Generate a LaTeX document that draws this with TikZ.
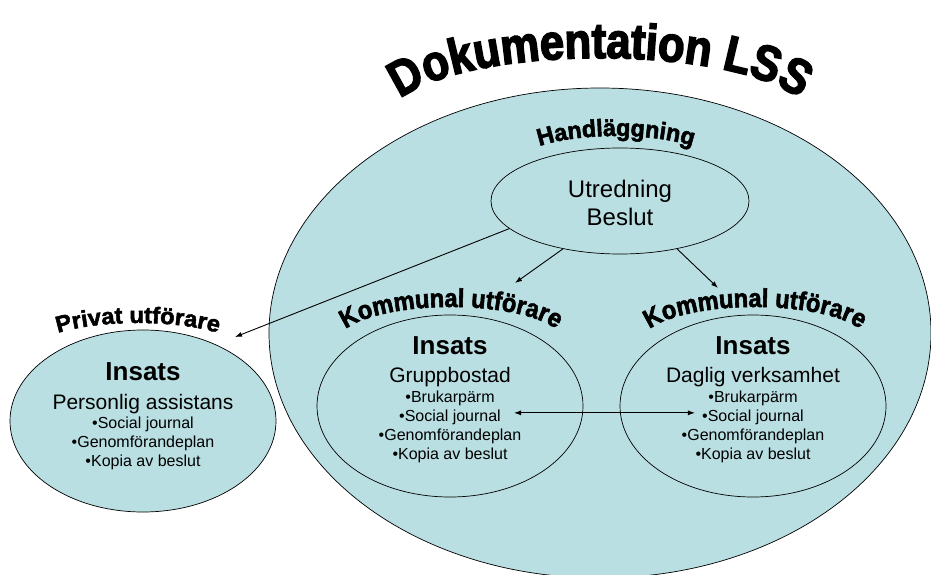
\documentclass[tikz,border=0pt]{standalone}
\usepackage{fontspec}
\setmainfont{Liberation Sans}
% heavy display faces for the arched headings
\newfontfamily\waTitle{Liberation Sans}[UprightFont=* Bold, FakeStretch=0.87, FakeBold=3]
\newfontfamily\waHand{Liberation Sans}[UprightFont=* Bold, FakeStretch=0.97, FakeBold=2.2]
\newfontfamily\waKomm{Liberation Sans}[UprightFont=* Bold, FakeStretch=0.91, FakeBold=2.2]
\newfontfamily\waPriv{Liberation Sans}[UprightFont=* Bold, FakeStretch=1.03, FakeBold=2.2]
\usetikzlibrary{shapes.geometric,arrows.meta,decorations.text,calc}
\definecolor{lssfill}{RGB}{186,223,226}
\newcommand\fsz[1]{\fontsize{#1}{#1}\selectfont}

\begin{document}
\begin{tikzpicture}[x=1pt,y=1pt,
  zone/.style={ellipse, draw=black, line width=0.7pt, fill=lssfill, inner sep=0pt},
  unit/.style={zone, minimum width=266pt, minimum height=182pt},
  line/.style={anchor=base, inner sep=0pt},
  head/.style={line, font=\bfseries\fsz{26}},
  sub/.style={line, font=\fsz{21}},
  item/.style={line, font=\fsz{16}},
  conn/.style={-{Latex[length=7pt,width=5pt]}, line width=0.9pt},
]
\useasboundingbox (0,0) rectangle (931,574);
\clip (0,0) rectangle (931,574);

% outer zone and the four inner ellipses
\node[zone, minimum width=662pt, minimum height=490pt] (lss) at (600,241) {};
\node[zone, minimum width=258pt, minimum height=106pt] (utr) at (620,373) {};
\node[unit] (priv) at (143,153) {};
\node[unit] (grupp) at (450,168) {};
\node[unit] (daglig) at (753,168) {};

% arched headings
\path[decorate, decoration={text along path, text align=center,
  text={|\waTitle\fsz{50}|Dokumentation LSS}}]
  ($(600,456)+(175:210pt and 60pt)$) arc[start angle=175, end angle=5, x radius=210pt, y radius=60pt];
\path[decorate, decoration={text along path, text align=center,
  text={|\waHand\fsz{24}|Handläggning}}]
  ($(616,408)+(175:102pt and 30pt)$) arc[start angle=175, end angle=5, x radius=102pt, y radius=30pt];
\path[decorate, decoration={text along path, text align=center,
  text={|\waPriv\fsz{23}|Privat utförare}}]
  ($(138,224)+(175:103pt and 27pt)$) arc[start angle=175, end angle=5, x radius=103pt, y radius=27pt];
\path[decorate, decoration={text along path, text align=center,
  text={|\waKomm\fsz{26}|Kommunal utförare}}]
  ($(451,232)+(175:113pt and 35pt)$) arc[start angle=175, end angle=5, x radius=113pt, y radius=35pt];
\path[decorate, decoration={text along path, text align=center,
  text={|\waKomm\fsz{26}|Kommunal utförare}}]
  ($(755,232)+(175:113pt and 35pt)$) arc[start angle=175, end angle=5, x radius=113pt, y radius=35pt];

% Handläggning
\node[line, font=\fsz{24}] (utrA) at (620,377) {Utredning};
\node[line, font=\fsz{24}] (utrB) at (620,349) {Beslut};

% Privat utförare
\node[head] (privH) at (143,194) {Insats};
\node[sub] (privS) at (143,165) {Personlig assistans};
\node[item] (privA) at (143,146) {•Social journal};
\node[item] (privB) at (143,127) {•Genomförandeplan};
\node[item] (privC) at (143,108) {•Kopia av beslut};

% Gruppbostad
\node[head] (gruppH) at (450,220) {Insats};
\node[sub] (gruppS) at (450,192) {Gruppbostad};
\node[item] (gruppA) at (450,172) {•Brukarpärm};
\node[item] (sjG) at (450,153) {•Social journal};
\node[item] (gruppC) at (450,134) {•Genomförandeplan};
\node[item] (gruppD) at (450,115) {•Kopia av beslut};

% Daglig verksamhet
\node[head] (dagH) at (753,220) {Insats};
\node[sub] (dagS) at (753,192) {Daglig verksamhet};
\node[item] (dagA) at (753,172) {•Brukarpärm};
\node[item] (sjD) at (753,153) {•Social journal};
\node[item] (dagC) at (753,134) {•Genomförandeplan};
\node[item] (dagD) at (753,115) {•Kopia av beslut};

% connectors
\coordinate (tipPriv) at (235,237);
\coordinate (tipGrupp) at (515,291);
\coordinate (tipDaglig) at (718,286);
\draw[conn] (utr.194) -- (tipPriv);
\draw[conn] (utr.220) -- (tipGrupp);
\draw[conn] (utr.-40) -- (tipDaglig);
\draw[conn, {Latex[length=7pt,width=5pt]}-{Latex[length=7pt,width=5pt]}]
  ([xshift=13pt,yshift=4pt]sjG.east) -- ([xshift=-7pt,yshift=4pt]sjD.west);
\end{tikzpicture}
\end{document}
